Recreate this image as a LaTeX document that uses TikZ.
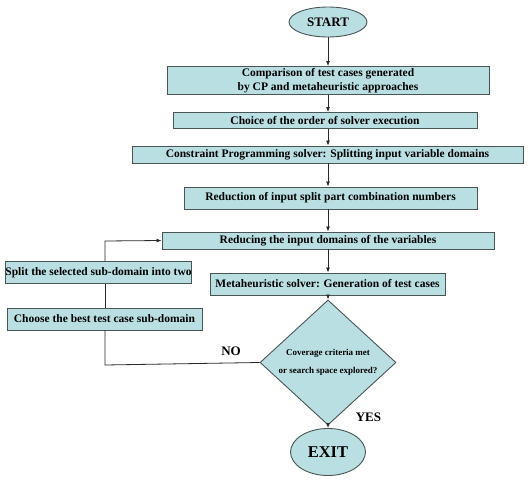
\documentclass[tikz,border=0pt]{standalone}
\usepackage{fontspec}
\setmainfont{Liberation Serif}
\usetikzlibrary{shapes.geometric,arrows.meta}
\definecolor{boxfill}{HTML}{BADFE3}
\definecolor{boxline}{HTML}{4A5557}
\definecolor{lineclr}{HTML}{2A2A2A}
\tikzset{
  procbox/.style={draw=boxline, line width=0.9pt, fill=boxfill, inner sep=0pt,
    font=\fontsize{11.5}{13.5}\selectfont\bfseries, align=center},
  termnode/.style={draw=boxline, line width=0.9pt, fill=boxfill, ellipse, inner sep=0pt},
  decnode/.style={draw=boxline, line width=0.9pt, fill=boxfill, diamond, inner sep=0pt,
    font=\fontsize{9}{18}\selectfont\bfseries, align=center},
  flow/.style={draw=lineclr, line width=0.8pt, -{Latex[length=5pt,width=4pt]}},
  plainline/.style={draw=lineclr, line width=0.8pt},
  lbl/.style={font=\fontsize{13}{15}\selectfont\bfseries, inner sep=0pt}
}
\begin{document}
\begin{tikzpicture}[x=1pt,y=-1pt]
\useasboundingbox (0,0) rectangle (530,481);
\fill[white] (0,0) rectangle (530,481);

\node[termnode, minimum width=78pt, minimum height=30pt, font=\fontsize{13}{15}\selectfont\bfseries] (start) at (328,22) {START};

\node[procbox, minimum width=322pt, minimum height=28pt] (b1) at (328,80.5) {Comparison of test cases generated\\by CP and metaheuristic approaches};
\node[procbox, minimum width=304pt, minimum height=16pt] (b2) at (325,120.5) {Choice of the order of solver execution};
\node[procbox, minimum width=391pt, minimum height=17pt] (b3) at (327.5,154.5) {Constraint Programming solver: Splitting input variable domains};
\node[procbox, minimum width=293pt, minimum height=22pt] (b4) at (330.5,198) {Reduction of input split part combination numbers};
\node[procbox, minimum width=332pt, minimum height=17pt] (b5) at (328,240.5) {Reducing the input domains of the variables};
\node[procbox, minimum width=235pt, minimum height=22pt] (b6) at (327.5,284) {Metaheuristic solver: Generation of test cases};

\node[procbox, minimum width=185pt, minimum height=22pt] (split) at (98.5,272.5) {Split the selected sub-domain into two};
\node[procbox, minimum width=195pt, minimum height=22pt] (choose) at (104.5,319) {Choose the best test case sub-domain};

\node[decnode, minimum width=136pt, minimum height=95pt] (dec) at (328,362.5) {Coverage criteria met\\or search space explored?};

\node[termnode, minimum width=75pt, minimum height=47pt, font=\fontsize{16.5}{18}\selectfont\bfseries] (exit) at (328,452) {EXIT};

\node[lbl] (no) at (231,351) {NO};
\node[lbl] (yes) at (368.5,417) {YES};

\coordinate (cA) at (105,365);
\coordinate (cB) at (105,241);

\draw[flow] (start) -- (b1);
\draw[flow] (b1) -- (b2.north -| b1);
\draw[flow] (b2.south -| b1) -- (b3.north -| b1);
\draw[flow] (b3.south -| b1) -- (b4.north -| b1);
\draw[flow] (b4.south -| b1) -- (b5.north -| b1);
\draw[flow] (b5.south -| b1) -- (b6.north -| b1);
\draw[flow] (b6.south -| b1) -- (dec.north);
\draw[flow] (dec.south) -- (exit);

\draw[plainline] (dec.west) -- (cA) -- (choose.south -| cA);
\draw[plainline] (choose.north -| cA) -- (split.south -| cA);
\draw[flow] (split.north -| cA) -- (cB) -- (b5.west);
\end{tikzpicture}
\end{document}
